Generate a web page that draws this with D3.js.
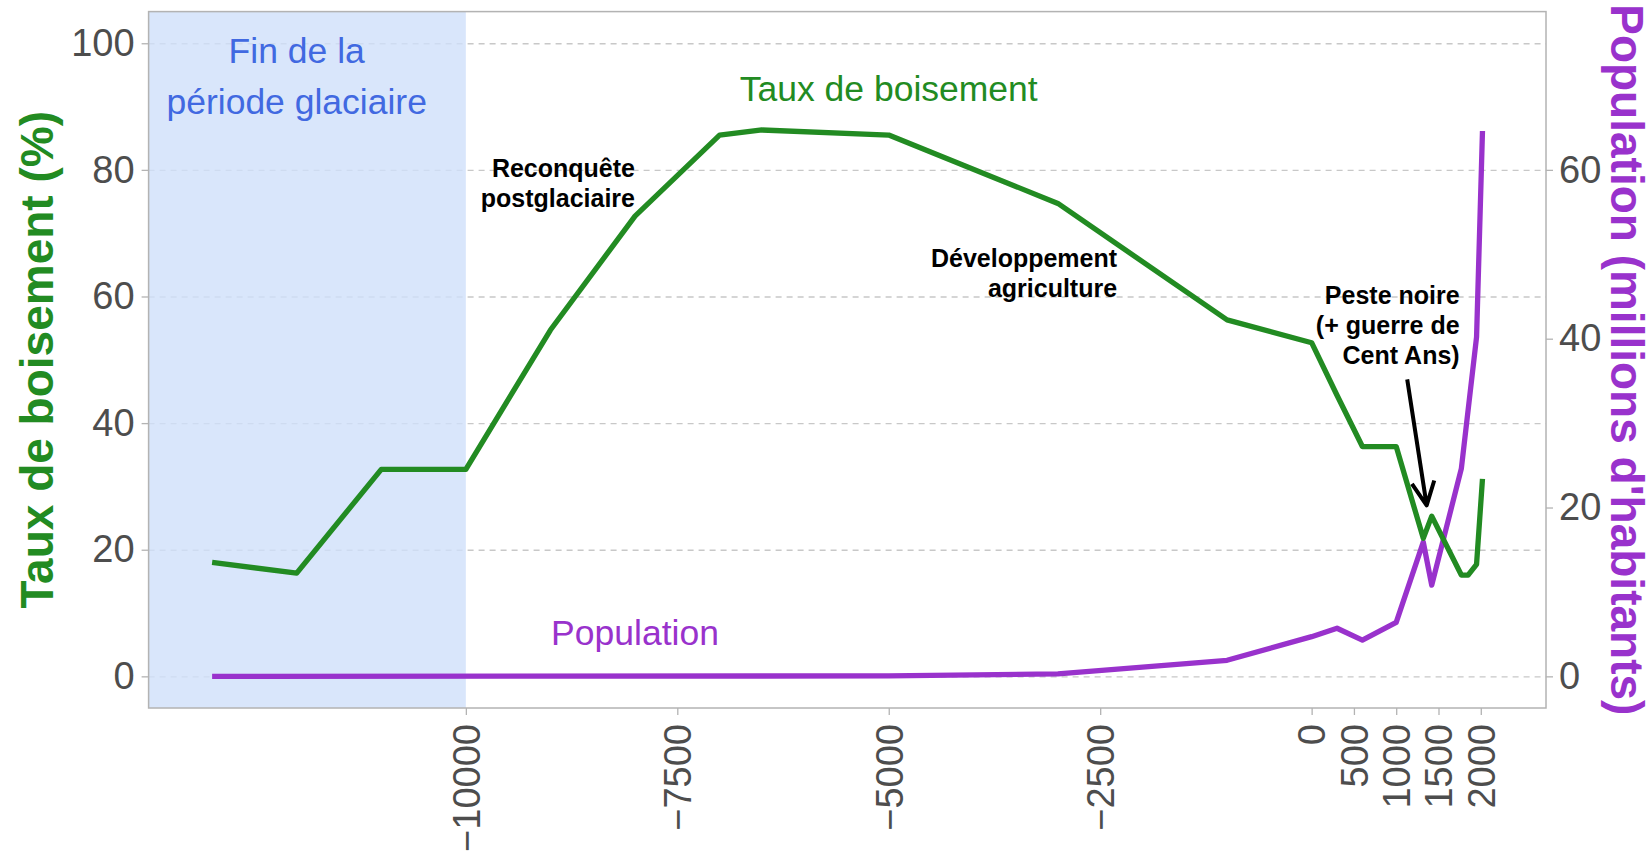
<!DOCTYPE html>
<html>
<head>
<meta charset="utf-8">
<script src="https://cdn.jsdelivr.net/npm/d3@7"></script>
<style>
  body { margin: 0; background: #fff; }
  svg { display: block; font-family: "Liberation Sans", Arial, sans-serif; }
</style>
</head>
<body>
<div id="chart"></div>
<script>
// forest cover in France (% of territory)
var forestYears  = [-13000, -12000, -11000, -10000, -9000, -8000, -7000, -6500, -5000, -3000, -1000, 0, 300, 600, 1000, 1320, 1420, 1770, 1850, 1950, 2020];
var forestValues = [18, 16.3, 32.7, 32.7, 54.7, 72.7, 85.5, 86.3, 85.5, 74.7, 56.3, 52.7, 44.4, 36.3, 36.3, 21.8, 25.3, 16, 16, 17.7, 31.2];

// population (millions)
var popYears  = [-13000, -5000, -3000, -1000, 0, 300, 600, 1000, 1320, 1420, 1770, 1950, 2020];
var popValues = [0, 0.05, 0.3, 1.9, 4.7, 5.7, 4.3, 6.4, 15.9, 10.8, 24.6, 40.2, 64.6];

var xTicks = [-10000, -7500, -5000, -2500, 0, 500, 1000, 1500, 2000];
var leftTicks = [0, 20, 40, 60, 80, 100];
var rightTicks = [0, 20, 40, 60];

var glacialEnd = -10000;

var glacialNote = ["Fin de la", "période glaciaire"];
var forestNote = ["Taux de boisement"];
var popNote = ["Population"];
var reconquestNote = ["Reconquête", "postglaciaire"];
var agriNote = ["Développement", "agriculture"];
var plagueNote = ["Peste noire", "(+ guerre de", "Cent Ans)"];

var width = 1652, height = 861;
var margin = { top: 11.6, right: 106, bottom: 153, left: 148.6 };
var green = '#228b22', purple = '#9932cc', blue = '#4169e1';
var popRatio = 0.75; // right axis = left axis * 0.75

var xMin = d3.min(forestYears), xMax = d3.max(forestYears);
var xPad = (xMax - xMin) * 0.05;

var x = d3.scaleLinear()
  .domain([xMin - xPad, xMax + xPad])
  .range([margin.left, width - margin.right]);
var yLeft = d3.scaleLinear()
  .domain([-5, 105])
  .range([height - margin.bottom, margin.top]);
var yRight = d3.scaleLinear()
  .domain([-5 * popRatio, 105 * popRatio])
  .range([height - margin.bottom, margin.top]);

var svg = d3.select('#chart').append('svg')
  .attr('width', width)
  .attr('height', height);

var x0 = margin.left, x1 = width - margin.right;
var y0 = margin.top, y1 = height - margin.bottom;

// grid lines
svg.append('g')
  .attr('transform', 'translate(' + x0 + ',0)')
  .call(d3.axisLeft(yLeft).tickValues(leftTicks).tickSize(-(x1 - x0)).tickFormat(''))
  .call(function(g) {
    g.select('.domain').remove();
    g.selectAll('line').attr('stroke', '#c8c8c8').attr('stroke-width', 1.3).attr('stroke-dasharray', '6,5');
  });

// ice age shading
svg.append('rect')
  .attr('x', x0)
  .attr('y', y0)
  .attr('width', x(glacialEnd) - x0)
  .attr('height', y1 - y0)
  .attr('fill', '#cfe0fa')
  .attr('fill-opacity', 0.8);

// panel border
svg.append('rect')
  .attr('x', x0).attr('y', y0)
  .attr('width', x1 - x0).attr('height', y1 - y0)
  .attr('fill', 'none')
  .attr('stroke', '#b3b3b3')
  .attr('stroke-width', 1.5);

function styleAxis(g) {
  g.select('.domain').remove();
  g.selectAll('line').attr('stroke', '#b3b3b3').attr('stroke-width', 1.3);
  g.selectAll('text').attr('fill', '#4d4d4d').style('font-size', '38px')
    .style('font-family', '"Liberation Sans", Arial, sans-serif');
}

svg.append('g')
  .attr('transform', 'translate(' + x0 + ',0)')
  .call(d3.axisLeft(yLeft).tickValues(leftTicks).tickSize(7).tickPadding(7))
  .call(styleAxis);

svg.append('g')
  .attr('transform', 'translate(' + x1 + ',0)')
  .call(d3.axisRight(yRight).tickValues(rightTicks).tickSize(7).tickPadding(6))
  .call(styleAxis);

svg.append('g')
  .attr('transform', 'translate(0,' + y1 + ')')
  .call(d3.axisBottom(x).tickValues(xTicks).tickFormat(d3.format('d')).tickSize(7))
  .call(styleAxis)
  .call(function(g) {
    g.selectAll('text')
      .attr('transform', 'rotate(-90)')
      .attr('x', -16)
      .attr('y', 0)
      .attr('dy', '0.35em')
      .attr('text-anchor', 'end');
  });

// axis titles
svg.append('text')
  .attr('transform', 'translate(53,' + (y0 + y1) / 2 + ') rotate(-90)')
  .attr('text-anchor', 'middle')
  .attr('fill', green)
  .style('font-size', '46px')
  .style('font-weight', 'bold')
  .text('Taux de boisement (%)');

svg.append('text')
  .attr('transform', 'translate(1611,' + (y0 + y1) / 2 + ') rotate(90)')
  .attr('text-anchor', 'middle')
  .attr('fill', purple)
  .style('font-size', '46px')
  .style('font-weight', 'bold')
  .text("Population (millions d'habitants)");

// the two series
var forestData = forestYears.map(function(d, i) { return [d, forestValues[i]]; });
var popData = popYears.map(function(d, i) { return [d, popValues[i]]; });

svg.append('path')
  .datum(popData)
  .attr('fill', 'none')
  .attr('stroke', purple)
  .attr('stroke-width', 5.3)
  .attr('stroke-linejoin', 'round')
  .attr('d', d3.line().x(function(d) { return x(d[0]); }).y(function(d) { return yRight(d[1]); }));

svg.append('path')
  .datum(forestData)
  .attr('fill', 'none')
  .attr('stroke', green)
  .attr('stroke-width', 5.3)
  .attr('stroke-linejoin', 'round')
  .attr('d', d3.line().x(function(d) { return x(d[0]); }).y(function(d) { return yLeft(d[1]); }));

// text annotations, placed in data coordinates
function note(lines, year, value, anchor, color, size, weight, gap) {
  var t = svg.append('text')
    .attr('x', x(year))
    .attr('y', yLeft(value))
    .attr('text-anchor', anchor)
    .attr('fill', color)
    .style('font-size', size + 'px')
    .style('font-weight', weight);
  lines.forEach(function(l, i) {
    t.append('tspan')
      .attr('x', x(year))
      .attr('dy', i === 0 ? 0 : gap)
      .text(l);
  });
}

note(glacialNote, -12000, 96.9, 'middle', blue, 35.5, 'normal', 51);
note(forestNote, -5000, 90.9, 'middle', green, 35.5, 'normal', 0);
note(popNote, -8000, 4.95, 'middle', purple, 35.5, 'normal', 0);
note(reconquestNote, -8000, 78.9, 'end', '#000', 25, 'bold', 30);
note(agriNote, -2300, 64.6, 'end', '#000', 25, 'bold', 30);
note(plagueNote, 1750, 58.8, 'end', '#000', 25, 'bold', 30);

// arrow to the black death dip
var ax0 = x(1130), ay0 = yLeft(46.9), ax1 = x(1360), ay1 = yLeft(27);
var ang = Math.atan2(ay1 - ay0, ax1 - ax0);
var head = 26, spread = Math.PI / 7;
svg.append('path')
  .attr('fill', 'none')
  .attr('stroke', '#000')
  .attr('stroke-width', 4)
  .attr('stroke-linejoin', 'round')
  .attr('d', 'M' + ax0 + ',' + ay0 + 'L' + ax1 + ',' + ay1 +
    'M' + (ax1 - head * Math.cos(ang - spread)) + ',' + (ay1 - head * Math.sin(ang - spread)) +
    'L' + ax1 + ',' + ay1 +
    'L' + (ax1 - head * Math.cos(ang + spread)) + ',' + (ay1 - head * Math.sin(ang + spread)));
</script>
</body>
</html>
